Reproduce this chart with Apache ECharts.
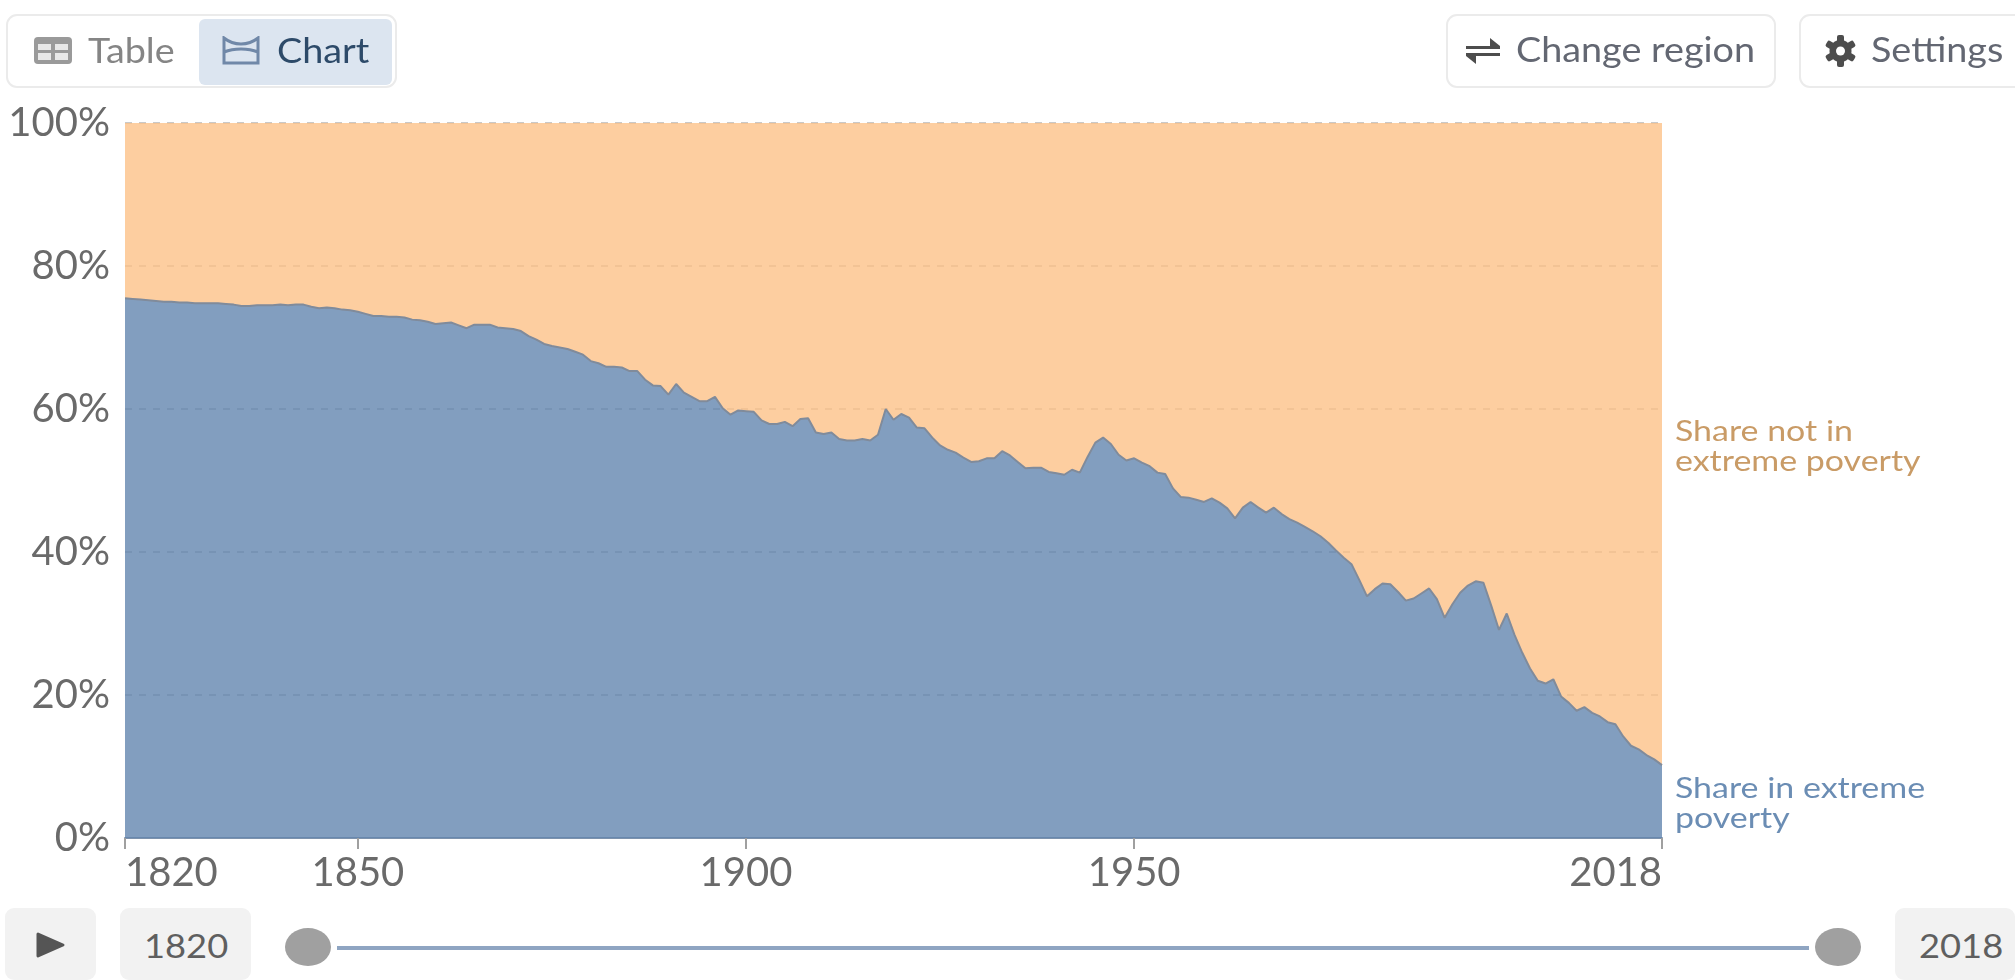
<!DOCTYPE html>
<html>
<head>
<meta charset="utf-8">
<script src="https://cdn.jsdelivr.net/npm/echarts@6/dist/echarts.min.js"></script>
<style>
  html, body { margin: 0; padding: 0; background: #fff; overflow: hidden; }
  body { width: 2015px; height: 980px; position: relative; font-family: Lato, sans-serif; }
  #chart { position: absolute; left: 0; top: 0; width: 2015px; height: 980px; }
  .box { position: absolute; box-sizing: border-box; }
  .btn { border: 2px solid #ebebeb; border-radius: 11px; height: 74px; top: 14px; }
  .txt { position: absolute; white-space: nowrap; font-size: 34px; line-height: 40px; transform-origin: left center; transform: scaleX(1.11); }
  .year { font-size: 33px; transform: scaleX(1.1); }
  .grey { background: #f2f2f2; border-radius: 9px; top: 908px; height: 72px; }
  .handle { position: absolute; top: 928px; width: 46px; height: 38px; border-radius: 50%; background: #a0a0a0; }
  svg { position: absolute; }
</style>
</head>
<body>
<div id="chart"></div>

<div class="box btn" style="left:6px;width:391px;"></div>
<div class="box" style="left:199px;top:19px;width:193px;height:66px;background:#dce5f0;border-radius:6px;"></div>
<svg style="left:34px;top:37px;" width="38" height="27" viewBox="0 0 38 27">
  <rect x="0" y="0" width="38" height="27" rx="4" fill="#9a9a9a"/>
  <rect x="4" y="7" width="13" height="6" fill="#e8e8e8"/>
  <rect x="21" y="7" width="13" height="6" fill="#e8e8e8"/>
  <rect x="4" y="16" width="13" height="7" fill="#e8e8e8"/>
  <rect x="21" y="16" width="13" height="7" fill="#e8e8e8"/>
</svg>
<div class="txt" style="left:88px;top:30px;color:#858585;">Table</div>
<svg style="left:222px;top:36px;" width="38" height="29" viewBox="0 0 38 29">
  <path d="M2 2 v25 h34 v-25 C26 10 12 10 2 2z M2 16 C12 12 26 12 36 16" fill="none" stroke="#7088a8" stroke-width="3"/>
</svg>
<div class="txt" style="left:277px;top:30px;color:#2d4a69;">Chart</div>

<div class="box btn" style="left:1446px;width:330px;"></div>
<svg style="left:1466px;top:36px;" width="34" height="30" viewBox="0 0 34 30">
  <path d="M0 10 h24 v-8 l10 8 v3 h-34z M34 20 h-24 v8 l-10 -8 v-3 h34z" fill="#4d4d4d"/>
</svg>
<div class="txt" style="left:1516px;top:29px;color:#636772;">Change region</div>

<div class="box btn" style="left:1799px;width:240px;"></div>
<svg style="left:1824px;top:35px;" width="33" height="32" viewBox="-16 -16 32 32">
  <g fill="#4d4d4d">
    <circle r="11"/>
    <rect x="-3.5" y="-16" width="7" height="32" rx="2"/>
    <rect x="-3.5" y="-16" width="7" height="32" rx="2" transform="rotate(60)"/>
    <rect x="-3.5" y="-16" width="7" height="32" rx="2" transform="rotate(120)"/>
  </g>
  <circle r="4.5" fill="#fff"/>
</svg>
<div class="txt" style="left:1871px;top:29px;color:#636772;">Settings</div>

<div class="box grey" style="left:5px;width:91px;"></div>
<svg style="left:36px;top:932px;" width="29" height="26" viewBox="0 0 29 26">
  <path d="M2 2 L27 13 L2 24z" fill="#555" stroke="#555" stroke-width="3" stroke-linejoin="round"/>
</svg>
<div class="box grey" style="left:120px;width:131px;"></div>
<div class="txt year" style="left:144px;top:925px;color:#5f5f5f;">1820</div>
<div class="handle" style="left:285px;"></div>
<div class="box" style="left:337px;top:946px;width:1472px;height:4px;background:#8fa5c2;"></div>
<div class="handle" style="left:1815px;"></div>
<div class="box grey" style="left:1895px;width:120px;"></div>
<div class="txt year" style="left:1919px;top:925px;color:#5f5f5f;">2018</div>

<script>
const firstYear = 1820;
const tickYears = [1820, 1850, 1900, 1950, 2018];
const percentTicks = [0, 20, 40, 60, 80, 100];
const notInLabel = "Share not in\nextreme poverty";
const inLabel = "Share in extreme\npoverty";

// one value per year
const shareInPoverty = [
  75.5, 75.4, 75.3, 75.2, 75.1,
  75.0, 75.0, 74.9, 74.9, 74.8,
  74.8, 74.8, 74.8, 74.7, 74.6,
  74.4, 74.4, 74.5, 74.5, 74.5,
  74.6, 74.5, 74.6, 74.6, 74.3,
  74.1, 74.2, 74.1, 73.9, 73.8,
  73.6, 73.3, 73.0, 73.0, 72.9,
  72.9, 72.8, 72.5, 72.4, 72.2,
  71.9, 72.0, 72.1, 71.7, 71.3,
  71.8, 71.8, 71.8, 71.4, 71.3,
  71.2, 70.9, 70.2, 69.7, 69.1,
  68.8, 68.6, 68.4, 68.0, 67.6,
  66.7, 66.4, 65.9, 65.9, 65.8,
  65.3, 65.3, 64.1, 63.3, 63.2,
  62.0, 63.5, 62.3, 61.7, 61.1,
  61.1, 61.7, 60.1, 59.2, 59.8,
  59.7, 59.6, 58.4, 57.9, 57.9,
  58.2, 57.6, 58.6, 58.7, 56.7,
  56.5, 56.7, 55.8, 55.6, 55.6,
  55.8, 55.6, 56.4, 60.0, 58.5,
  59.3, 58.8, 57.4, 57.3, 56.0,
  54.9, 54.3, 53.9, 53.2, 52.6,
  52.7, 53.1, 53.1, 54.1, 53.5,
  52.6, 51.7, 51.8, 51.8, 51.2,
  51.0, 50.8, 51.5, 51.1, 53.3,
  55.3, 56.0, 55.1, 53.6, 52.8,
  53.1, 52.5, 52.0, 51.1, 50.9,
  48.9, 47.7, 47.6, 47.3, 47.0,
  47.5, 46.9, 46.1, 44.7, 46.2,
  47.0, 46.2, 45.5, 46.2, 45.3,
  44.6, 44.1, 43.5, 42.9, 42.2,
  41.3, 40.2, 39.2, 38.3, 36.1,
  33.8, 34.8, 35.6, 35.5, 34.4,
  33.2, 33.5, 34.2, 34.9, 33.4,
  30.8, 32.7, 34.3, 35.3, 35.9,
  35.7, 32.5, 29.1, 31.4, 28.4,
  25.9, 23.7, 22.0, 21.6, 22.2,
  19.8, 18.9, 17.8, 18.3, 17.5,
  17.0, 16.2, 15.9, 14.2, 12.9,
  12.4, 11.6, 11.0, 10.2
];

const years = shareInPoverty.map((v, i) => String(firstYear + i));
const shareNotInPoverty = shareInPoverty.map(v => +(100 - v).toFixed(1));
const isTickYear = (i, name) => tickYears.includes(+name);

const chart = echarts.init(document.getElementById("chart"));
chart.setOption({
  animation: false,
  textStyle: { fontFamily: "Lato" },
  grid: { left: 125, right: 353, top: 123, bottom: 142 },
  xAxis: {
    type: "category",
    data: years,
    boundaryGap: false,
    splitLine: { show: false },
    axisLine: { show: true, lineStyle: { color: "#7d92ac", width: 2 } },
    axisTick: { interval: isTickYear, length: 11, lineStyle: { color: "#a0a0a0", width: 2 } },
    axisLabel: {
      interval: isTickYear,
      color: "#6a6a6a",
      fontSize: 40,
      margin: 15,
      alignMinLabel: "left",
      alignMaxLabel: "right"
    }
  },
  yAxis: {
    type: "value",
    min: percentTicks[0],
    max: percentTicks[percentTicks.length - 1],
    interval: 20,
    axisLine: { show: false },
    axisTick: { show: false },
    splitLine: { lineStyle: { color: "#b8b8b8", type: [7, 7], width: 1.5 } },
    axisLabel: { formatter: "{value}%", color: "#6a6a6a", fontSize: 40, margin: 15 }
  },
  series: [
    {
      name: "Share in extreme poverty",
      type: "line",
      stack: "total",
      data: shareInPoverty,
      symbol: "none",
      lineStyle: { color: "#808b9b", width: 2 },
      areaStyle: { color: "#6386af", opacity: 0.8 }
    },
    {
      name: "Share not in extreme poverty",
      type: "line",
      stack: "total",
      data: shareNotInPoverty,
      symbol: "none",
      lineStyle: { width: 0 },
      areaStyle: { color: "#fcc288", opacity: 0.8 }
    }
  ],
  graphic: [
    { type: "text", x: 1675, y: 417, scaleX: 1.17, style: { text: notInLabel, fill: "#c99b66", font: "29px Lato", lineHeight: 30 } },
    { type: "text", x: 1675, y: 774, scaleX: 1.17, style: { text: inLabel, fill: "#6b8db4", font: "29px Lato", lineHeight: 30 } }
  ]
});
</script>
</body>
</html>
